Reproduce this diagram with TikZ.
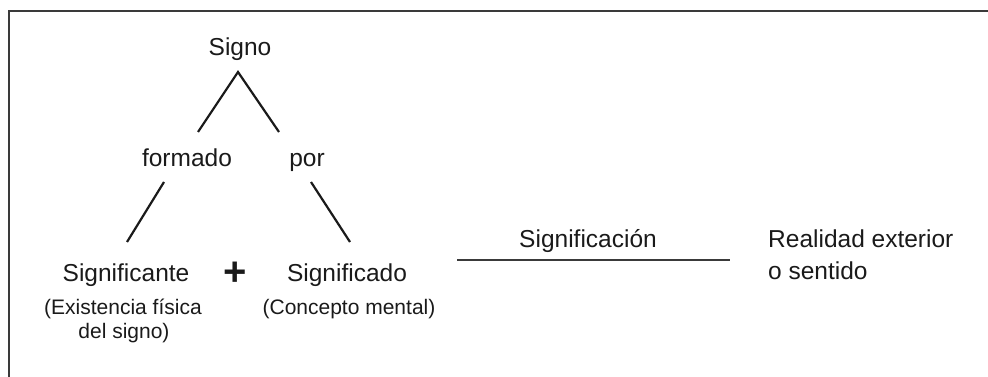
\documentclass[tikz,border=0pt]{standalone}
\usepackage{fontspec}
\setmainfont{Liberation Sans}
\definecolor{ink}{HTML}{1A1A1A}
\definecolor{frame}{HTML}{3A3A3A}
\begin{document}
\begin{tikzpicture}[x=1pt,y=-1pt,
  main/.style={inner sep=0pt,anchor=base,text=ink,font=\fontsize{24.5}{29}\selectfont},
  small/.style={inner sep=0pt,anchor=base,text=ink,font=\fontsize{21}{25}\selectfont},
  branch/.style={draw=ink,line width=2.2pt},
  rule/.style={draw=frame,line width=2.2pt}]
\useasboundingbox (0,0) rectangle (988,377);
% frame (top and left edges)
\coordinate (ftr) at (988,11);
\coordinate (ftl) at (9,11);
\coordinate (fbl) at (9,377);
\draw[rule,line width=2.6pt] (ftr) -- (ftl) -- (fbl);
% texts
\node[main] (signo) at (240,56) {Signo};
\node[main] (formado) at (187,167) {formado};
\node[main] (por) at (307,167) {por};
\node[main] (ste) at (126,281) {Significante};
\node[inner sep=0pt,text=ink,font=\fontsize{40}{40}\selectfont\bfseries] (plus) at (235,274) {+};
\node[main] (sdo) at (347,281) {Significado};
\node[small] (ex1) at (123,314) {(Existencia física};
\node[small] (ex2) at (124,338) {del signo)};
\node[small] (cm) at (349,314) {(Concepto mental)};
\node[main] (sion) at (588,247) {Significación};
\node[main,anchor=base west] (real1) at (768,247) {Realidad exterior};
\node[main,anchor=base west] (real2) at (768,279) {o sentido};
% branch end points
\coordinate (apex) at (238,72);
\coordinate (aL) at (198,132);
\coordinate (aR) at (279,132);
\coordinate (bLt) at (164,182);
\coordinate (bLb) at (127,242);
\coordinate (bRt) at (311,182);
\coordinate (bRb) at (350,242);
\coordinate (hL) at (457,260);
\coordinate (hR) at (730,260);
\draw[branch] (aL) -- (apex) -- (aR);
\draw[branch] (bLt) -- (bLb);
\draw[branch] (bRt) -- (bRb);
\draw[rule,line width=2pt] (hL) -- (hR);
\end{tikzpicture}
\end{document}
